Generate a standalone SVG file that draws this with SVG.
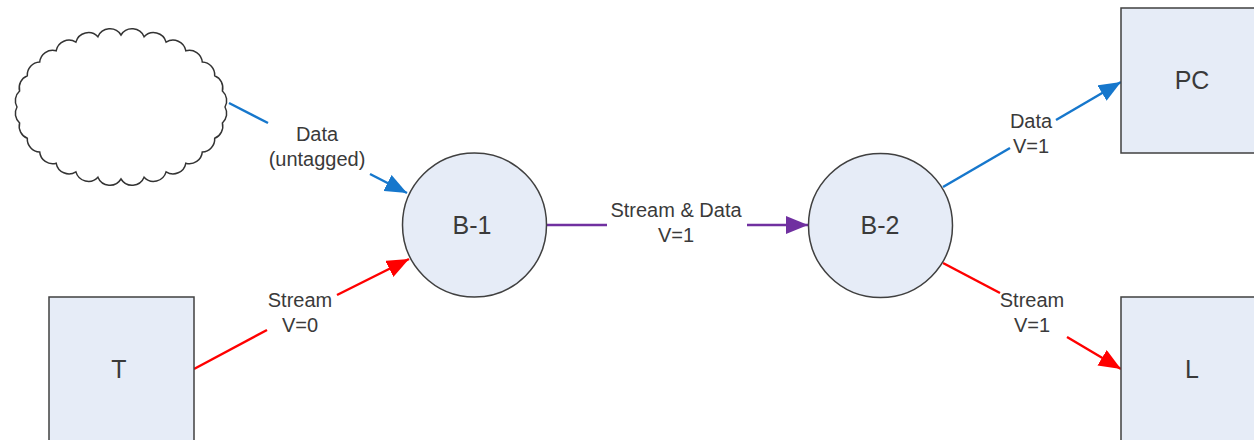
<svg xmlns="http://www.w3.org/2000/svg" width="1254" height="440" viewBox="0 0 1254 440">
<style>
.node{fill:#E6ECF7;stroke:#404040;stroke-width:1.5}
.cloud{fill:#FFFFFF;stroke:#333333;stroke-width:1.5}
.nt{font-family:"Liberation Sans",Arial,sans-serif;font-size:25px;fill:#3a3a3a;text-anchor:middle}
.lt{font-family:"Liberation Sans",Arial,sans-serif;font-size:20px;fill:#3a3a3a;text-anchor:middle}
.blue{stroke:#1677CC;stroke-width:2.5;fill:none}
.red{stroke:#FF0000;stroke-width:2.5;fill:none}
.purple{stroke:#7030A0;stroke-width:2.5;fill:none}
</style>
<defs>
<marker id="ab" markerUnits="userSpaceOnUse" markerWidth="24" markerHeight="18" refX="22" refY="9" orient="auto"><path d="M0,0 L22,9 L0,18 Z" fill="#1677CC"/></marker>
<marker id="ar" markerUnits="userSpaceOnUse" markerWidth="24" markerHeight="18" refX="22" refY="9" orient="auto"><path d="M0,0 L22,9 L0,18 Z" fill="#FF0000"/></marker>
<marker id="ap" markerUnits="userSpaceOnUse" markerWidth="24" markerHeight="18" refX="22" refY="9" orient="auto"><path d="M0,0 L22,9 L0,18 Z" fill="#7030A0"/></marker>
</defs>
<g id="cloud">
<path class="cloud" d="M225,107 A13,13 0 0 1 222.4,123 A13,13 0 0 1 214.7,138.2 A13,13 0 0 1 202.3,151.9 A13,13 0 0 1 185.8,163.3 A13,13 0 0 1 166.1,171.9 A13,13 0 0 1 144.1,177.2 A13,13 0 0 1 121,179 A13,13 0 0 1 97.9,177.2 A13,13 0 0 1 75.9,171.9 A13,13 0 0 1 56.2,163.3 A13,13 0 0 1 39.7,151.9 A13,13 0 0 1 27.3,138.2 A13,13 0 0 1 19.6,123 A13,13 0 0 1 17,107 A13,13 0 0 1 19.6,91 A13,13 0 0 1 27.3,75.8 A13,13 0 0 1 39.7,62.1 A13,13 0 0 1 56.2,50.7 A13,13 0 0 1 75.9,42.1 A13,13 0 0 1 97.9,36.8 A13,13 0 0 1 121,35 A13,13 0 0 1 144.1,36.8 A13,13 0 0 1 166.1,42.1 A13,13 0 0 1 185.8,50.7 A13,13 0 0 1 202.3,62.1 A13,13 0 0 1 214.7,75.8 A13,13 0 0 1 222.4,91 A13,13 0 0 1 225,107 Z"/>
</g>
<g id="connectors">
<line class="blue" x1="229" y1="103" x2="268" y2="123"/>
<line class="blue" x1="370" y1="174" x2="407" y2="193" marker-end="url(#ab)"/>
<line class="red" x1="194" y1="369" x2="267" y2="330"/>
<line class="red" x1="337" y1="295" x2="409" y2="259" marker-end="url(#ar)"/>
<line class="purple" x1="547" y1="225" x2="607" y2="225"/>
<line class="purple" x1="747" y1="225" x2="808" y2="225" marker-end="url(#ap)"/>
<line class="blue" x1="943" y1="187" x2="1010" y2="148"/>
<line class="blue" x1="1056" y1="120" x2="1121" y2="82" marker-end="url(#ab)"/>
<line class="red" x1="943" y1="263" x2="1000" y2="293"/>
<line class="red" x1="1067" y1="337" x2="1121" y2="369" marker-end="url(#ar)"/>
<text class="lt" x="317" y="141">Data</text>
<text class="lt" x="317" y="166">(untagged)</text>
<text class="lt" x="300" y="307">Stream</text>
<text class="lt" x="300" y="332">V=0</text>
<text class="lt" x="676" y="217">Stream &amp; Data</text>
<text class="lt" x="676" y="242">V=1</text>
<text class="lt" x="1031" y="128">Data</text>
<text class="lt" x="1031" y="153">V=1</text>
<text class="lt" x="1032" y="307">Stream</text>
<text class="lt" x="1032" y="332">V=1</text>
</g>
<g id="B-1">
<circle class="node" cx="474.5" cy="225" r="72"/>
<text class="nt" x="472" y="234">B-1</text>
</g>
<g id="B-2">
<circle class="node" cx="880.5" cy="225.5" r="72"/>
<text class="nt" x="880" y="234">B-2</text>
</g>
<g id="T">
<rect class="node" x="49" y="297" width="145" height="160"/>
<text class="nt" x="119" y="378">T</text>
</g>
<g id="PC">
<rect class="node" x="1121" y="8" width="145" height="145"/>
<text class="nt" x="1192" y="89">PC</text>
</g>
<g id="L">
<rect class="node" x="1121" y="297" width="145" height="160"/>
<text class="nt" x="1192" y="378">L</text>
</g>
</svg>
